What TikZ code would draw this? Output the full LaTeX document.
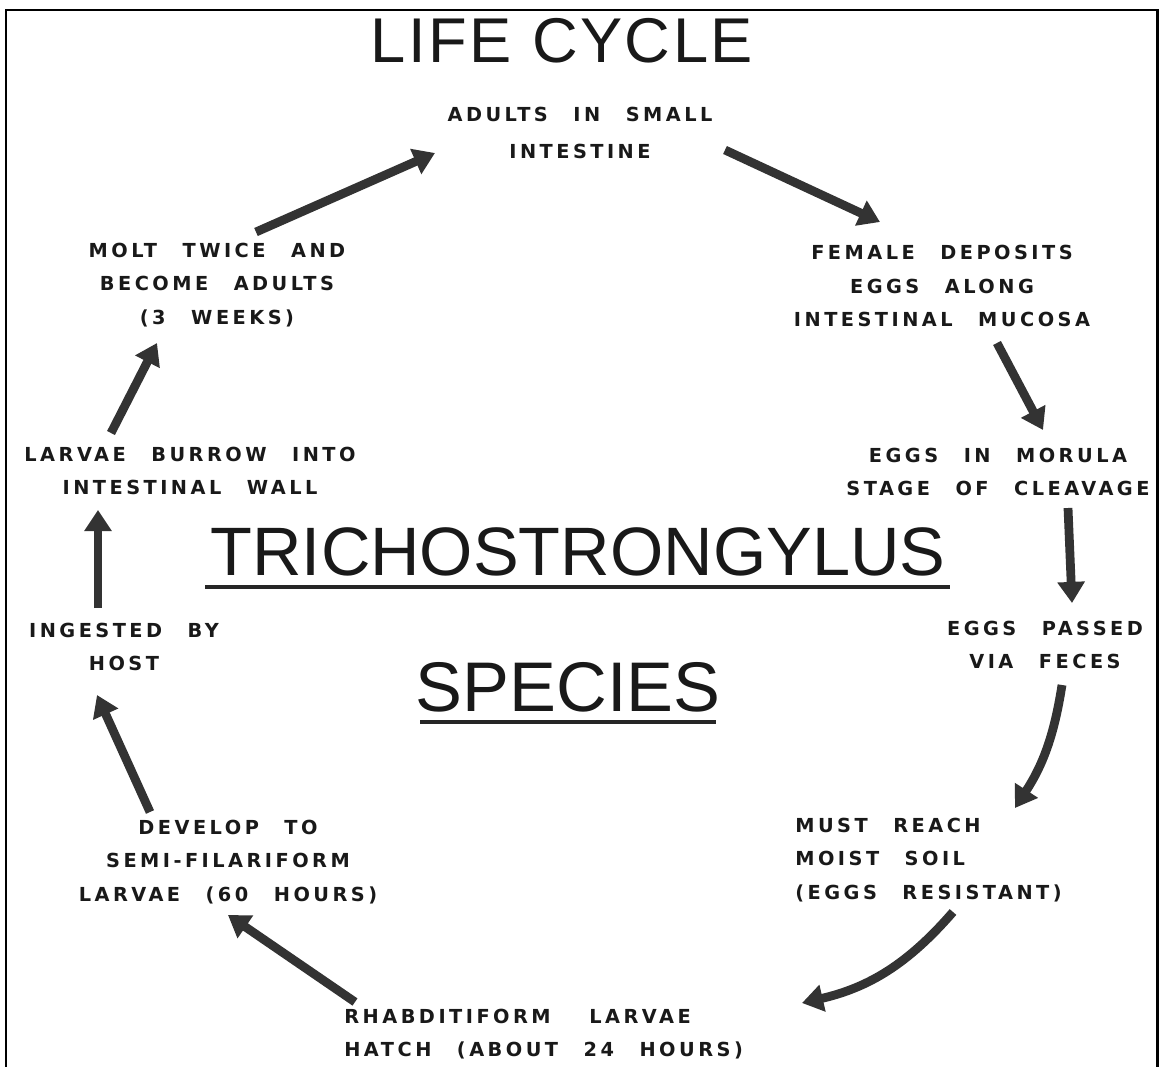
\documentclass[tikz,border=0pt]{standalone}
\usepackage{fontspec}
\setmainfont{Liberation Sans}
\newfontfamily\titlefont[LetterSpace=4]{Liberation Sans}
\newfontfamily\stencilfont[LetterSpace=18,WordSpace=2.5]{DejaVu Sans Bold}
\usetikzlibrary{arrows.meta, positioning, calc}
\definecolor{inkgray}{HTML}{333333}

\begin{document}
\begin{tikzpicture}[
    x=0.02cm, y=-0.02cm,
    >={Triangle[length=12pt, width=15pt]},
    stage/.style={font=\stencilfont\fontsize{11}{19}\selectfont, align=center, inner sep=0pt, text=black!90},
    heading/.style={inner sep=0pt, text=black!90},
    cycle_arrow/.style={->, draw=inkgray, line width=5pt},
    under_rule/.style={line width=2.3pt, draw=black!85}
]
\useasboundingbox (0,0) rectangle (1159,1067);

% FRAME (open at the bottom)
\draw[line width=1.7pt] (6,1067) -- (6,10) -- (1157,10) -- (1157,1067);

% TITLE
\node[heading, font=\titlefont\fontsize{36}{36}\selectfont] (title) at (562,41) {LIFE CYCLE};

% GENUS / SPECIES IN THE MIDDLE
\node[heading, font=\fontsize{39}{39}\selectfont] (genus) at (578,552) {TRICHOSTRONGYLUS};
\draw[under_rule] ([shift={(-373,35)}]genus.center) -- ([shift={(372,35)}]genus.center);
\node[heading, font=\fontsize{40}{40}\selectfont] (species) at (568,687) {SPECIES};
\draw[under_rule] ([shift={(-148,35)}]species.center) -- ([shift={(148,35)}]species.center);

% STAGES (clockwise from the top)
\node[stage, font=\stencilfont\fontsize{11}{21.5}\selectfont] (adults) at (580,133) {ADULTS IN SMALL\\INTESTINE};
\node[stage] (female) at (942,286) {FEMALE DEPOSITS\\EGGS ALONG\\INTESTINAL MUCOSA};
\node[stage] (morula) at (998,472) {EGGS IN MORULA\\STAGE OF CLEAVAGE};
\node[stage] (passed) at (1045,645) {EGGS PASSED\\VIA FECES};
\node[stage, align=left, anchor=west] (soil) at (795,860) {MUST REACH\\MOIST SOIL\\(EGGS RESISTANT)};
\node[stage, align=left, anchor=west] (hatch) at (344,1034) {RHABDITIFORM\qquad LARVAE\\HATCH (ABOUT 24 HOURS)};
\node[stage] (develop) at (228,862) {DEVELOP TO\\SEMI-FILARIFORM\\LARVAE (60 HOURS)};
\node[stage] (ingested) at (124,647) {INGESTED BY\\HOST};
\node[stage] (burrow) at (190,471) {LARVAE BURROW INTO\\INTESTINAL WALL};
\node[stage] (molt) at (217,285) {MOLT TWICE AND\\BECOME ADULTS\\(3 WEEKS)};

% CYCLE ARROWS
\draw[cycle_arrow] ([shift={(145,17)}]adults.center) -- ([shift={(-62,-64)}]female.center);
\draw[cycle_arrow] ([shift={(55,57)}]female.center) -- ([shift={(45,-42)}]morula.center);
\draw[cycle_arrow] ([shift={(70,36)}]morula.center) -- ([shift={(27,-42)}]passed.center);
\draw[cycle_arrow] ([shift={(17,40)}]passed.center) to[bend left=12] ([shift={(220,-52)}]soil.west);
\draw[cycle_arrow] ([shift={(158,52)}]soil.west) to[bend left=18] ([shift={(458,-31)}]hatch.west);
\draw[cycle_arrow] ([shift={(11,-32)}]hatch.west) -- ([shift={(0,53)}]develop.center);
\draw[cycle_arrow] ([shift={(-78,-50)}]develop.center) -- ([shift={(-27,48)}]ingested.center);
\draw[cycle_arrow] ([shift={(-26,-39)}]ingested.center) -- ([shift={(-92,39)}]burrow.center);
\draw[cycle_arrow] ([shift={(-79,-38)}]burrow.center) -- ([shift={(-60,58)}]molt.center);
\draw[cycle_arrow] ([shift={(39,-53)}]molt.center) -- ([shift={(-145,20)}]adults.center);

\end{tikzpicture}
\end{document}
